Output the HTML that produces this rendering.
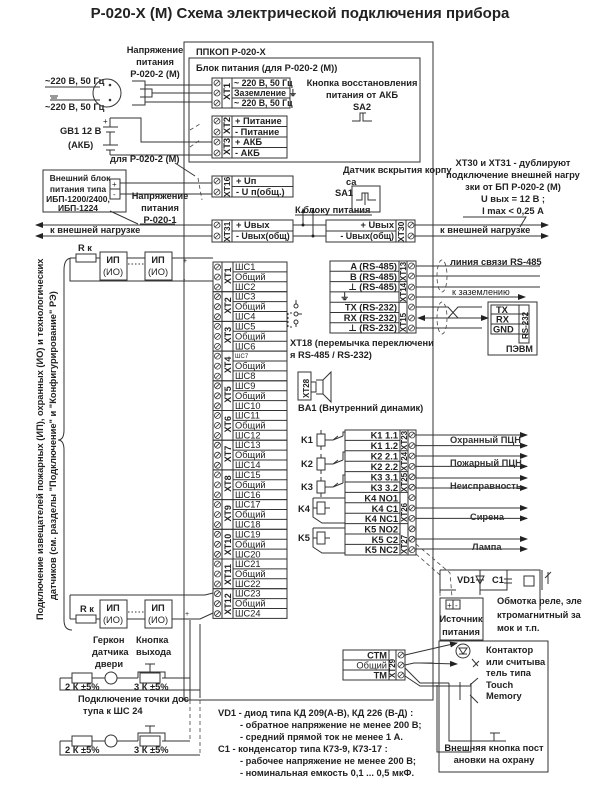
<!DOCTYPE html>
<html><head><meta charset="utf-8"><style>
html,body{margin:0;padding:0;background:#fff}
svg{display:block}
text{font-family:"Liberation Sans","DejaVu Sans",sans-serif;font-size:9.3px;fill:#222}
.b{font-weight:bold}
.ln{stroke:#333;stroke-width:1;fill:none}
.th{stroke:#333;stroke-width:1.2;fill:none}
.d{stroke:#444;stroke-width:0.8;fill:none;stroke-dasharray:4 3}
</style></head><body>
<svg width="600" height="789" viewBox="0 0 600 789" xmlns="http://www.w3.org/2000/svg">
<defs>
<g id="sc"><circle cx="0" cy="0" r="3" fill="none" stroke="#333" stroke-width="0.8"/><line x1="-2" y1="2" x2="2" y2="-2" stroke="#333" stroke-width="0.8"/></g>
<marker id="ar" markerWidth="8" markerHeight="6" refX="7" refY="3" orient="auto"><path d="M0,0 L8,3 L0,6 z" fill="#222"/></marker>
</defs>

<text x="300" y="18" text-anchor="middle" class="b" style="font-size:15px">Р-020-Х (М)  Схема электрической подключения прибора</text>

<rect x="184" y="42" width="249" height="658" class="ln"/>
<text x="196" y="55" class="b">ППКОП Р-020-Х</text>
<rect x="189" y="58" width="231" height="104" class="ln"/>
<text x="196" y="71" class="b">Блок питания (для Р-020-2 (М))</text>

<rect x="212" y="78" width="78" height="30" class="ln"/>
<path d="M222,78V108M232,78V108M232,88H290M232,98H290" class="ln"/>
<use href="#sc" x="217" y="83"/><use href="#sc" x="217" y="93"/><use href="#sc" x="217" y="103"/>
<text transform="translate(230,100) rotate(-90)" class="b">XT1</text>
<text x="234" y="86" class="b" style="font-size:8.8px">~ 220 В, 50 Гц</text>
<text x="234" y="96" class="b" style="font-size:8.8px">Заземление ⏚</text>
<text x="234" y="106" class="b" style="font-size:8.8px">~ 220 В, 50 Гц</text>
<rect x="212" y="116" width="75" height="21" class="ln"/>
<rect x="212" y="137" width="75" height="21" class="ln"/>
<path d="M222,116V158M232,116V158M232,126.5H287M232,147.5H287" class="ln"/>
<use href="#sc" x="217" y="121"/><use href="#sc" x="217" y="132"/><use href="#sc" x="217" y="142"/><use href="#sc" x="217" y="153"/>
<text transform="translate(230,134) rotate(-90)" class="b">XT2</text>
<text transform="translate(230,155) rotate(-90)" class="b">XT3</text>
<text x="235" y="124" class="b">+ Питание</text><text x="235" y="135" class="b">- Питание</text>
<text x="235" y="145" class="b">+ АКБ</text><text x="235" y="156" class="b">- АКБ</text>
<rect x="212" y="176" width="81" height="21" class="ln"/>
<path d="M222,176V197M232,176V197M232,186.5H293" class="ln"/>
<use href="#sc" x="217" y="181"/><use href="#sc" x="217" y="192"/>
<text transform="translate(230,197) rotate(-90)" class="b" style="font-size:8.5px">XT16</text>
<text x="236" y="184" class="b">+ Uп</text><text x="236" y="195" class="b">- U п(общ.)</text>
<rect x="212" y="220" width="81" height="22" class="ln"/>
<path d="M222,220V242M232,220V242M232,231H293" class="ln"/>
<use href="#sc" x="217" y="225"/><use href="#sc" x="217" y="236"/>
<text transform="translate(230,242) rotate(-90)" class="b" style="font-size:8.5px">XT31</text>
<text x="236" y="228" class="b">+ Uвых</text><text x="236" y="239" class="b" style="font-size:8.8px">- Uвых(общ)</text>
<rect x="326" y="220" width="89" height="22" class="ln"/>
<path d="M396,220V242M406,220V242M326,231H396" class="ln"/>
<use href="#sc" x="411" y="225"/><use href="#sc" x="411" y="236"/>
<text transform="translate(404,242) rotate(-90)" class="b" style="font-size:8.5px">XT30</text>
<text x="394" y="228" class="b" text-anchor="end">+ Uвых</text><text x="394" y="239" class="b" text-anchor="end" style="font-size:8.8px">- Uвых(общ)</text>
<text x="295" y="213" class="b">К блоку питания</text><line x1="295" y1="215" x2="372" y2="215" class="ln"/>
<path d="M293,225H326M293,236H326M303,225V210M313,236V210" class="ln"/>
<path d="M301,213L303,208L305,213zM311,213L313,208L315,213z" fill="#222"/>
<circle cx="303" cy="225" r="1.5" fill="#222"/><circle cx="313" cy="236" r="1.5" fill="#222"/>

<text x="362" y="86" text-anchor="middle" class="b">Кнопка восстановления</text>
<text x="362" y="98" text-anchor="middle" class="b">питания от АКБ</text>
<text x="362" y="110" text-anchor="middle" class="b">SA2</text>
<path d="M352,121H360V113H366M363,113V121H372" class="ln"/>
<text x="343" y="173" class="b">Датчик вскрытия корпу</text>
<text x="346" y="185" class="b">са</text>
<text x="335" y="196" class="b">SA1</text>
<rect x="352" y="186" width="28" height="26" class="ln"/>
<path d="M356,200H362V193H368V200H376M365,193V205" class="ln"/>

<text x="513" y="166" text-anchor="middle" class="b">XT30 и XT31 -  дублируют</text>
<text x="513" y="178" text-anchor="middle" class="b">подключение внешней нагру</text>
<text x="513" y="190" text-anchor="middle" class="b">зки от БП Р-020-2 (М)</text>
<text x="513" y="202" text-anchor="middle" class="b">U вых = 12 В ;</text>
<text x="513" y="214" text-anchor="middle" class="b">I max &lt; 0,25 А</text>
<path d="M463,217H526L520,227" class="ln"/>
<line x1="415" y1="225" x2="548" y2="225" class="ln" marker-end="url(#ar)"/>
<line x1="415" y1="236" x2="548" y2="236" class="ln" marker-end="url(#ar)"/>
<text x="440" y="233" class="b">к внешней нагрузке</text>
<line x1="212" y1="225" x2="36" y2="225" class="ln" marker-end="url(#ar)"/>
<line x1="212" y1="236" x2="36" y2="236" class="ln" marker-end="url(#ar)"/>
<text x="50" y="233" class="b">к внешней нагрузке</text>

<text x="155" y="53" text-anchor="middle" class="b">Напряжение</text>
<text x="155" y="65" text-anchor="middle" class="b">питания</text>
<text x="155" y="77" text-anchor="middle" class="b">Р-020-2 (М)</text>
<text x="45" y="84" class="b">~220 В, 50 Гц</text>
<text x="45" y="110" class="b">~220 В, 50 Гц</text>
<path d="M45,87H100M50,100H100M50,96H58M51,98H57" class="ln"/>
<circle cx="107" cy="93" r="14" class="ln"/>
<circle cx="110" cy="85" r="1.3" fill="#333"/><circle cx="110" cy="100" r="1.3" fill="#333"/>
<path d="M132,81H145V105H132M140,89H152V97H140" class="ln"/>
<path d="M145,85H212M152,93H212M145,102H212" class="ln"/>
<text x="60" y="134" class="b">GB1 12 В</text>
<text x="68" y="148" class="b">(АКБ)</text>
<path d="M103,127H118M106,132H115M103,145H118M106,150H115M110,118V127M110,132V145M110,150V155" class="ln"/>
<text x="103" y="124" style="font-size:8px">+</text>
<path d="M110,118H141V142H212M110,155H212" class="ln"/>
<path d="M190,130L200,124M190,147L200,140M198,178L202,200" class="d"/>
<text x="110" y="162" class="b">для Р-020-2 (М)</text>
<path d="M175,163L195,176" class="ln"/>
<rect x="43" y="170" width="83" height="42" class="ln"/>
<text x="80" y="181" text-anchor="middle" class="b" style="font-size:8.5px">Внешний блок</text>
<text x="78" y="192" text-anchor="middle" class="b" style="font-size:8.5px">питания типа</text>
<text x="78" y="202" text-anchor="middle" class="b" style="font-size:8.5px">ИБП-1200/2400,</text>
<text x="78" y="211" text-anchor="middle" class="b" style="font-size:8.5px">ИБП-1224</text>
<rect x="110" y="179" width="10" height="10" class="ln"/><rect x="110" y="189" width="10" height="10" class="ln"/>
<text x="112" y="187" style="font-size:8px">+</text><text x="113" y="197" style="font-size:8px">-</text>
<path d="M120,183H212M120,194H212" class="ln"/>
<text x="160" y="199" text-anchor="middle" class="b">Напряжение</text>
<text x="160" y="211" text-anchor="middle" class="b">питания</text>
<text x="160" y="223" text-anchor="middle" class="b">Р-020-1</text>
<path d="M140,224H175M138,224L110,211" class="ln"/>

<g>
<g transform="translate(0,262)"><rect x="213" y="0" width="74" height="29.7" class="ln"/><path d="M222,0V29.7M233,0V29.7M233,9.9H287M233,19.8H287" class="ln"/><use href="#sc" x="217.5" y="5"/><use href="#sc" x="217.5" y="15"/><use href="#sc" x="217.5" y="25"/><text transform="translate(231,22) rotate(-90)" class="b" style="font-size:9px">XT1</text><text x="235" y="8">ШС1</text><text x="235" y="18">Общий</text><text x="235" y="28">ШС2</text></g>
<g transform="translate(0,291.7)"><rect x="213" y="0" width="74" height="29.7" class="ln"/><path d="M222,0V29.7M233,0V29.7M233,9.9H287M233,19.8H287" class="ln"/><use href="#sc" x="217.5" y="5"/><use href="#sc" x="217.5" y="15"/><use href="#sc" x="217.5" y="25"/><text transform="translate(231,22) rotate(-90)" class="b" style="font-size:9px">XT2</text><text x="235" y="8">ШС3</text><text x="235" y="18">Общий</text><text x="235" y="28">ШС4</text></g>
<g transform="translate(0,321.4)"><rect x="213" y="0" width="74" height="29.7" class="ln"/><path d="M222,0V29.7M233,0V29.7M233,9.9H287M233,19.8H287" class="ln"/><use href="#sc" x="217.5" y="5"/><use href="#sc" x="217.5" y="15"/><use href="#sc" x="217.5" y="25"/><text transform="translate(231,22) rotate(-90)" class="b" style="font-size:9px">XT3</text><text x="235" y="8">ШС5</text><text x="235" y="18">Общий</text><text x="235" y="28">ШС6</text></g>
<g transform="translate(0,351.1)"><rect x="213" y="0" width="74" height="29.7" class="ln"/><path d="M222,0V29.7M233,0V29.7M233,9.9H287M233,19.8H287" class="ln"/><use href="#sc" x="217.5" y="5"/><use href="#sc" x="217.5" y="15"/><use href="#sc" x="217.5" y="25"/><text transform="translate(231,22) rotate(-90)" class="b" style="font-size:9px">XT4</text><text x="235" y="7" style="font-size:6px">ШС7</text><text x="235" y="18">Общий</text><text x="235" y="28">ШС8</text></g>
<g transform="translate(0,380.8)"><rect x="213" y="0" width="74" height="29.7" class="ln"/><path d="M222,0V29.7M233,0V29.7M233,9.9H287M233,19.8H287" class="ln"/><use href="#sc" x="217.5" y="5"/><use href="#sc" x="217.5" y="15"/><use href="#sc" x="217.5" y="25"/><text transform="translate(231,22) rotate(-90)" class="b" style="font-size:9px">XT5</text><text x="235" y="8">ШС9</text><text x="235" y="18">Общий</text><text x="235" y="28">ШС10</text></g>
<g transform="translate(0,410.5)"><rect x="213" y="0" width="74" height="29.7" class="ln"/><path d="M222,0V29.7M233,0V29.7M233,9.9H287M233,19.8H287" class="ln"/><use href="#sc" x="217.5" y="5"/><use href="#sc" x="217.5" y="15"/><use href="#sc" x="217.5" y="25"/><text transform="translate(231,22) rotate(-90)" class="b" style="font-size:9px">XT6</text><text x="235" y="8">ШС11</text><text x="235" y="18">Общий</text><text x="235" y="28">ШС12</text></g>
<g transform="translate(0,440.2)"><rect x="213" y="0" width="74" height="29.7" class="ln"/><path d="M222,0V29.7M233,0V29.7M233,9.9H287M233,19.8H287" class="ln"/><use href="#sc" x="217.5" y="5"/><use href="#sc" x="217.5" y="15"/><use href="#sc" x="217.5" y="25"/><text transform="translate(231,22) rotate(-90)" class="b" style="font-size:9px">XT7</text><text x="235" y="8">ШС13</text><text x="235" y="18">Общий</text><text x="235" y="28">ШС14</text></g>
<g transform="translate(0,469.9)"><rect x="213" y="0" width="74" height="29.7" class="ln"/><path d="M222,0V29.7M233,0V29.7M233,9.9H287M233,19.8H287" class="ln"/><use href="#sc" x="217.5" y="5"/><use href="#sc" x="217.5" y="15"/><use href="#sc" x="217.5" y="25"/><text transform="translate(231,22) rotate(-90)" class="b" style="font-size:9px">XT8</text><text x="235" y="8">ШС15</text><text x="235" y="18">Общий</text><text x="235" y="28">ШС16</text></g>
<g transform="translate(0,499.6)"><rect x="213" y="0" width="74" height="29.7" class="ln"/><path d="M222,0V29.7M233,0V29.7M233,9.9H287M233,19.8H287" class="ln"/><use href="#sc" x="217.5" y="5"/><use href="#sc" x="217.5" y="15"/><use href="#sc" x="217.5" y="25"/><text transform="translate(231,22) rotate(-90)" class="b" style="font-size:9px">XT9</text><text x="235" y="8">ШС17</text><text x="235" y="18">Общий</text><text x="235" y="28">ШС18</text></g>
<g transform="translate(0,529.3)"><rect x="213" y="0" width="74" height="29.7" class="ln"/><path d="M222,0V29.7M233,0V29.7M233,9.9H287M233,19.8H287" class="ln"/><use href="#sc" x="217.5" y="5"/><use href="#sc" x="217.5" y="15"/><use href="#sc" x="217.5" y="25"/><text transform="translate(231,26) rotate(-90)" class="b" style="font-size:9px">XT10</text><text x="235" y="8">ШС19</text><text x="235" y="18">Общий</text><text x="235" y="28">ШС20</text></g>
<g transform="translate(0,559)"><rect x="213" y="0" width="74" height="29.7" class="ln"/><path d="M222,0V29.7M233,0V29.7M233,9.9H287M233,19.8H287" class="ln"/><use href="#sc" x="217.5" y="5"/><use href="#sc" x="217.5" y="15"/><use href="#sc" x="217.5" y="25"/><text transform="translate(231,26) rotate(-90)" class="b" style="font-size:9px">XT11</text><text x="235" y="8">ШС21</text><text x="235" y="18">Общий</text><text x="235" y="28">ШС22</text></g>
<g transform="translate(0,588.7)"><rect x="213" y="0" width="74" height="29.7" class="ln"/><path d="M222,0V29.7M233,0V29.7M233,9.9H287M233,19.8H287" class="ln"/><use href="#sc" x="217.5" y="5"/><use href="#sc" x="217.5" y="15"/><use href="#sc" x="217.5" y="25"/><text transform="translate(231,26) rotate(-90)" class="b" style="font-size:9px">XT12</text><text x="235" y="8">ШС23</text><text x="235" y="18">Общий</text><text x="235" y="28">ШС24</text></g>
</g>

<rect x="330" y="261" width="86" height="72" class="ln"/>
<path d="M399,261V333M407,261V333M330,271.3H399M330,281.6H407M330,291.9H399M330,302.2H407M330,312.5H399M330,322.8H399" class="ln"/>
<use href="#sc" x="411.5" y="266"/><use href="#sc" x="411.5" y="276"/><use href="#sc" x="411.5" y="287"/><use href="#sc" x="411.5" y="297"/><use href="#sc" x="411.5" y="307"/><use href="#sc" x="411.5" y="318"/><use href="#sc" x="411.5" y="328"/>
<text x="397" y="269.5" text-anchor="end" class="b">A (RS-485)</text>
<text x="397" y="280" text-anchor="end" class="b">B (RS-485)</text>
<text x="397" y="290" text-anchor="end" class="b">⊥ (RS-485)</text>
<text x="340" y="300" class="b">⏚</text>
<text x="397" y="310.5" text-anchor="end" class="b">TX (RS-232)</text>
<text x="397" y="321" text-anchor="end" class="b">RX (RS-232)</text>
<text x="397" y="331" text-anchor="end" class="b">⊥ (RS-232)</text>
<text transform="translate(406,281) rotate(-90)" class="b" style="font-size:8px">XT13</text>
<text transform="translate(406,302) rotate(-90)" class="b" style="font-size:8px">XT14</text>
<text transform="translate(406,332) rotate(-90)" class="b" style="font-size:8px">XT15</text>
<path d="M416,266H540M416,276H540M416,287H540" class="ln"/>
<line x1="416" y1="297" x2="525" y2="297" class="ln" marker-end="url(#ar)"/>
<text x="450" y="265" class="b">линия связи RS-485</text>
<text x="452" y="295" style="font-size:9px">к заземлению</text>
<path d="M416,307H448L458,318H482M416,328H482M448,318L458,307H482" class="ln"/>
<line x1="482" y1="318" x2="418" y2="318" class="ln" marker-end="url(#ar)"/>
<line x1="458" y1="318" x2="488" y2="318" class="ln" marker-end="url(#ar)"/>
<ellipse cx="442" cy="276" rx="5" ry="16" class="d"/>
<ellipse cx="442" cy="318" rx="5" ry="16" class="d"/>
<rect x="488" y="302" width="49" height="53" class="ln"/>
<rect x="491" y="305" width="38" height="9" class="ln"/><rect x="491" y="314" width="38" height="10" class="ln"/><rect x="491" y="324" width="38" height="10" class="ln"/>
<rect x="519" y="305" width="10" height="38" class="ln"/>
<text x="496" y="313" class="b">TX</text><text x="496" y="322.5" class="b">RX</text><text x="493" y="332.5" class="b">GND</text>
<text transform="translate(528,339) rotate(-90)" class="b" style="font-size:8px">RS-232</text>
<text x="506" y="352" class="b" style="font-size:9px">ПЭВМ</text>

<path d="M288,313V327H292M292,313H288" class="ln" style="stroke-dasharray:2 2"/>
<circle cx="296" cy="306" r="2" class="ln"/><circle cx="296" cy="314" r="2" class="ln"/><circle cx="296" cy="322" r="2" class="ln"/>
<path d="M298,314H302M296,300V304M296,324V327" class="ln"/>
<text x="290" y="346" class="b">XT18 (перемычка переключени</text>
<text x="290" y="358" class="b">я RS-485 / RS-232)</text>
<rect x="298" y="372" width="13" height="28" class="ln"/>
<text transform="translate(309,398) rotate(-90)" class="b" style="font-size:8px">XT28</text>
<path d="M311,382H316V392H311M316,380H323V394H316M323,380L331,372V402L323,394" class="ln"/>
<text x="298" y="411" class="b">BA1 (Внутренний динамик)</text>

<rect x="345" y="430" width="71" height="125" class="ln"/>
<path d="M400,430V555M408,430V555M345,440.4H400M345,450.8H408M345,461.2H400M345,471.6H408M345,482H400M345,492.4H408M345,502.8H400M345,513.2H400M345,523.6H408M345,534H400M345,544.4H400" class="ln"/>
<text x="398" y="438.5" text-anchor="end" class="b">K1 1.1</text>
<text x="398" y="449" text-anchor="end" class="b">K1 1.2</text>
<text x="398" y="459.5" text-anchor="end" class="b">K2 2.1</text>
<text x="398" y="470" text-anchor="end" class="b">K2 2.2</text>
<text x="398" y="480.5" text-anchor="end" class="b">K3 3.1</text>
<text x="398" y="491" text-anchor="end" class="b">K3 3.2</text>
<text x="398" y="501.5" text-anchor="end" class="b">K4 NO1</text>
<text x="398" y="512" text-anchor="end" class="b">K4 C1</text>
<text x="398" y="522" text-anchor="end" class="b">K4 NC1</text>
<text x="398" y="532.5" text-anchor="end" class="b">K5 NO2</text>
<text x="398" y="543" text-anchor="end" class="b">K5 C2</text>
<text x="398" y="553" text-anchor="end" class="b">K5 NC2</text>
<text transform="translate(407,450) rotate(-90)" class="b" style="font-size:8px">XT23</text>
<text transform="translate(407,471) rotate(-90)" class="b" style="font-size:8px">XT24</text>
<text transform="translate(407,492) rotate(-90)" class="b" style="font-size:8px">XT25</text>
<text transform="translate(407,522) rotate(-90)" class="b" style="font-size:8px">XT26</text>
<text transform="translate(407,554) rotate(-90)" class="b" style="font-size:8px">XT27</text>
<g>
<use href="#sc" x="412" y="435"/><use href="#sc" x="412" y="445.6"/><use href="#sc" x="412" y="456"/><use href="#sc" x="412" y="466.4"/><use href="#sc" x="412" y="476.8"/><use href="#sc" x="412" y="487.2"/><use href="#sc" x="412" y="497.6"/><use href="#sc" x="412" y="508"/><use href="#sc" x="412" y="518.4"/><use href="#sc" x="412" y="528.8"/><use href="#sc" x="412" y="539.2"/><use href="#sc" x="412" y="549.6"/>
</g>
<text x="301" y="443" class="b">K1</text><rect x="317" y="434" width="8" height="12" class="ln"/><path d="M321,430V434M321,446V450M325,440H333L338,436M333,440L343,436M343,436V432H345" class="ln"/>
<text x="301" y="467" class="b">K2</text><rect x="317" y="458" width="8" height="12" class="ln"/><path d="M321,454V458M321,470V474M325,464H333L338,460M333,464L343,460M343,460V452H345" class="ln"/>
<text x="301" y="490" class="b">K3</text><rect x="317" y="481" width="8" height="12" class="ln"/><path d="M321,477V481M321,493V497M325,487H333L338,483M333,487L343,483M343,483V475H345" class="ln"/>
<text x="298" y="512" class="b">K4</text><rect x="317" y="502" width="8" height="12" class="ln"/><path d="M313,508H317M325,508H330M313,498V517L322,523H345M313,498H345" class="ln"/>
<text x="298" y="541" class="b">K5</text><rect x="317" y="532" width="8" height="12" class="ln"/><path d="M313,538H317M325,538H330M313,528V547L322,553H345M313,528H345" class="ln"/>

<g class="ln">
<line x1="416" y1="435" x2="527" y2="435" marker-end="url(#ar)"/>
<line x1="416" y1="445.6" x2="527" y2="445.6" marker-end="url(#ar)"/>
<line x1="416" y1="456" x2="527" y2="456" marker-end="url(#ar)"/>
<line x1="416" y1="466.4" x2="527" y2="466.4" marker-end="url(#ar)"/>
<line x1="416" y1="478" x2="527" y2="478" marker-end="url(#ar)"/>
<line x1="416" y1="488" x2="527" y2="488" marker-end="url(#ar)"/>
<line x1="416" y1="508" x2="527" y2="508" marker-end="url(#ar)"/>
<line x1="416" y1="518.4" x2="527" y2="518.4" marker-end="url(#ar)"/>
<line x1="416" y1="539" x2="527" y2="539" marker-end="url(#ar)"/>
<line x1="416" y1="549" x2="527" y2="549" marker-end="url(#ar)"/>
</g>
<text x="450" y="443" class="b" style="fill:#333">Охранный ПЦН</text>
<text x="450" y="466" class="b" style="fill:#333">Пожарный ПЦН</text>
<text x="450" y="489" class="b" style="fill:#333">Неисправность</text>
<text x="470" y="520" class="b" style="fill:#333">Сирена</text>
<text x="472" y="550" class="b" style="fill:#333">Лампа</text>

<path d="M416,544L450,573L452,597M416,554L440,575V597" class="d"/>
<path d="M440,570V593M440,570H540V610M480,570V595M507,570V590H480M440,590H456" class="ln"/>
<text x="457" y="583" class="b">VD1</text>
<path d="M476,580H484M476,576L484,576L480,584z" class="ln"/>
<text x="492" y="583" class="b">C1</text>
<path d="M504,579H512M504,583H512" class="ln"/>
<rect x="524" y="576" width="10" height="10" class="ln"/><path d="M542,570V590M548,572V584M545,578L551,572" class="ln"/>
<rect x="440" y="598" width="43" height="42" class="ln"/>
<rect x="446" y="600" width="7" height="9" class="ln"/><rect x="453" y="600" width="7" height="9" class="ln"/>
<text x="447" y="608" style="font-size:8px">+</text><text x="455" y="608" style="font-size:8px">-</text>
<text x="461" y="622" text-anchor="middle" class="b">Источник</text>
<text x="461" y="635" text-anchor="middle" class="b">питания</text>
<text x="497" y="604" class="b">Обмотка реле, эле</text>
<text x="497" y="618" class="b">ктромагнитный за</text>
<text x="497" y="631" class="b">мок и т.п.</text>

<rect x="343" y="650" width="62" height="30" class="ln"/>
<path d="M389,650V680M396,650V680M343,660H389M343,670H389" class="ln"/>
<text x="387" y="658.5" text-anchor="end" class="b">СТМ</text>
<text x="387" y="668.5" text-anchor="end">Общий</text>
<text x="387" y="678.5" text-anchor="end" class="b">ТМ</text>
<text transform="translate(395,678) rotate(-90)" class="b" style="font-size:8px">XT29</text>
<use href="#sc" x="401" y="655"/><use href="#sc" x="401" y="665"/><use href="#sc" x="401" y="675"/>
<path d="M405,665L414,663H433M405,668L420,683H449M405,676L420,686H471M449,683V741H506M471,683V752H437V685" class="ln"/>
<line x1="405" y1="655" x2="457" y2="643" class="ln" marker-end="url(#ar)"/>
<line x1="420" y1="663" x2="457" y2="664" class="ln" marker-end="url(#ar)"/>
<rect x="439" y="641" width="109" height="131" class="ln"/>
<circle cx="463" cy="651" r="7" class="ln"/><path d="M459,654H467M463,654L459,648H467z" class="ln"/>
<path d="M472,659L478,666M473,667L479,661" class="ln"/>
<path d="M460,682V700M470,685L478,678M470,695L478,703" class="ln"/>
<path d="M494,741V733M490,733H500M497,741H506" class="ln"/>
<text x="486" y="653" class="b">Контактор</text>
<text x="486" y="665" class="b">или считыва</text>
<text x="486" y="676" class="b">тель типа</text>
<text x="486" y="688" class="b">Touch</text>
<text x="486" y="699" class="b">Memory</text>
<text x="494" y="751" text-anchor="middle" class="b">Внешняя кнопка пост</text>
<text x="494" y="763" text-anchor="middle" class="b">ановки на охрану</text>

<text x="218" y="716" class="b">VD1 -  диод типа КД 209(А-В), КД 226 (В-Д) :</text>
<text x="240" y="728" class="b">-   обратное напряжение не менее 200 В;</text>
<text x="240" y="740" class="b">-   средний прямой ток не менее 1 А.</text>
<text x="218" y="752" class="b">С1 -  конденсатор типа К73-9, К73-17 :</text>
<text x="240" y="764" class="b">-   рабочее напряжение не менее 200 В;</text>
<text x="240" y="776" class="b">-   номинальная емкость 0,1 ... 0,5 мкФ.</text>

<text transform="translate(43,620) rotate(-90)" style="font-size:9.3px" class="b">Подключение извещателей пожарных (ИП), охранных (ИО) и технологических</text>
<text transform="translate(56,600) rotate(-90)" style="font-size:9.3px" class="b">датчиков (см. разделы "Подключение" и "Конфигурирование" РЭ)</text>
<path d="M72,258Q64,258 64,270V430Q64,440 58,440Q64,440 64,450V620Q64,630 72,630" class="ln"/>

<path d="M70,258H76M96,258H100M127,258H145M172,258H213M70,258V281H213" class="ln"/>
<rect x="76" y="254" width="20" height="8" class="ln"/><text x="78" y="251" class="b">R к</text>
<rect x="100" y="252" width="27" height="28" class="ln"/><rect x="145" y="252" width="27" height="28" class="ln"/>
<text x="113" y="263" text-anchor="middle" class="b">ИП</text><text x="113" y="275" text-anchor="middle">(ИО)</text>
<text x="158" y="263" text-anchor="middle" class="b">ИП</text><text x="158" y="275" text-anchor="middle">(ИО)</text>
<path d="M128,264H144" stroke="#333" stroke-dasharray="1.5 2" />
<text x="183" y="263" style="font-size:7px">+</text><text x="183" y="282" style="font-size:7px">-</text>
<path d="M70,595H205L213,593M70,595V619M70,619H76M96,619H100M127,619H145M172,619H200L213,613" class="ln"/>
<rect x="76" y="615" width="20" height="8" class="ln"/><text x="80" y="612" class="b">R к</text>
<rect x="100" y="600" width="27" height="28" class="ln"/><rect x="145" y="600" width="27" height="28" class="ln"/>
<text x="113" y="611" text-anchor="middle" class="b">ИП</text><text x="113" y="623" text-anchor="middle">(ИО)</text>
<text x="158" y="611" text-anchor="middle" class="b">ИП</text><text x="158" y="623" text-anchor="middle">(ИО)</text>
<path d="M128,612H144" stroke="#333" stroke-dasharray="1.5 2"/>
<text x="185" y="616" style="font-size:7px">+</text>
<path d="M190,620V688M200,624V698" class="ln"/>

<text x="93" y="643" class="b">Геркон</text><text x="92" y="655" class="b">датчика</text><text x="95" y="667" class="b">двери</text>
<text x="136" y="643" class="b">Кнопка</text><text x="136" y="655" class="b">выхода</text>
<path d="M60,678H72M92,678H105M117,678H138M162,678H190M60,678V690H200M138,678V672H165V678M150,672V664M145,664H155" class="ln"/>
<rect x="72" y="673" width="20" height="10" class="ln"/><rect x="140" y="673" width="20" height="10" class="ln"/>
<circle cx="111" cy="678" r="6" class="ln"/>
<text x="65" y="690" class="b">2 К ±5%</text><text x="134" y="690" class="b">3 К ±5%</text>
<path d="M190,688V700H433" class="ln"/>
<text x="78" y="702" class="b">Подключение точки дос</text>
<text x="83" y="714" class="b">тупа к ШС 24</text>
<path d="M60,741H72M92,741H105M117,741H138M162,741H190M60,741V755H200M138,741V733H165V741M150,733V726M145,726H155" class="ln"/>
<rect x="72" y="736" width="20" height="10" class="ln"/><rect x="140" y="736" width="20" height="10" class="ln"/>
<circle cx="111" cy="741" r="6" class="ln"/>
<text x="65" y="753" class="b">2 К ±5%</text><text x="134" y="753" class="b">3 К ±5%</text>
<path d="M190,700V741M200,700V755" class="d"/>
</svg>
</body></html>
